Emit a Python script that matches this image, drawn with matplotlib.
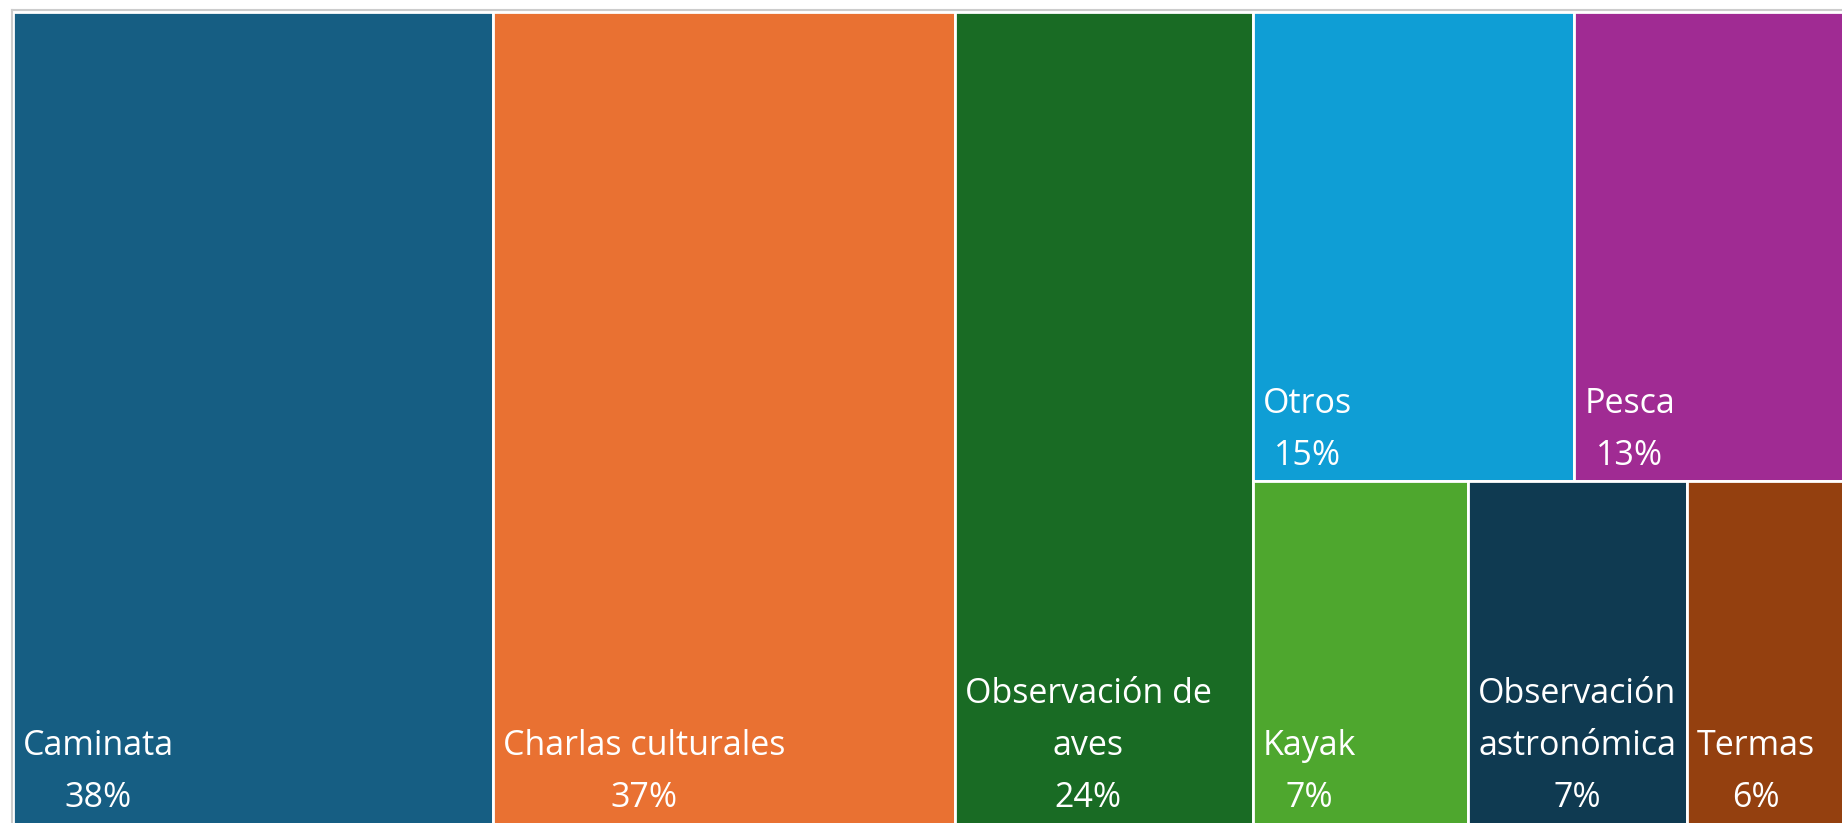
import matplotlib
matplotlib.use("Agg")
import matplotlib.pyplot as plt
from matplotlib.patches import Rectangle
from matplotlib.lines import Line2D

# ---- data ----
categories = ["Caminata", "Charlas culturales", "Observación de aves", "Otros",
              "Pesca", "Kayak", "Observación astronómica", "Termas"]
values = [38.3, 36.9, 23.8, 14.8, 13.2, 7.3, 7.4, 5.9]
colors = ["#165E83", "#E97132", "#196B24", "#0F9ED5",
          "#A02B93", "#4EA72E", "#0F3A51", "#94400F"]
# treemap grouping: columns -> rows -> category indices
columns = [[[0]], [[1]], [[2]], [[3, 4], [5, 6, 7]]]
wrapped = {"Observación de aves": "Observación de\naves",
           "Observación astronómica": "Observación\nastronómica"}

W, H = 1842, 823
fig = plt.figure(figsize=(W / 100, H / 100), dpi=100)
fig.patch.set_facecolor("white")

total = sum(values)
left_px, top_px, below_px = 13, 12, 3
span_px = 1848  # treemap extends slightly past the right edge
ax = fig.add_axes([left_px / W, -below_px / H, span_px / W,
                   (H - top_px + below_px) / H])
ax.set_xlim(0, total)
ax.set_ylim(0, 1)
ax.axis("off")

x = 0.0
for col in columns:
    col_sum = sum(values[i] for r in col for i in r)
    y_top = 1.0
    for row in col:
        row_sum = sum(values[i] for i in row)
        h = row_sum / col_sum
        y0 = y_top - h
        if abs(y0) < 1e-9:
            y0 = 0.0
        xx = x
        for i in row:
            w = values[i] / row_sum * col_sum
            ax.add_patch(Rectangle((xx, y0), w, y_top - y0, facecolor=colors[i],
                                   edgecolor="white", linewidth=2.0))
            name = wrapped.get(categories[i], categories[i])
            oy = 8 if y0 > 0 else 8 + below_px
            ax.annotate(f"{name}\n{round(values[i])}%", xy=(xx, y0),
                        xytext=(10, oy), textcoords="offset pixels",
                        ha="left", va="bottom", multialignment="center",
                        color="white", fontsize=24.5, family="Open Sans",
                        linespacing=1.7)
            xx += w
        y_top = y0
    x += col_sum

# visual frame (light gray border at top and left)
fig.add_artist(Line2D([11.5 / W, 11.5 / W], [0, 1 - 9.5 / H],
                      transform=fig.transFigure, color="#CCCCCC", lw=1.5))
fig.add_artist(Line2D([11.5 / W, 1], [1 - 9.5 / H, 1 - 9.5 / H],
                      transform=fig.transFigure, color="#CCCCCC", lw=1.5))

fig.savefig("out.png", dpi=100, facecolor="white")
